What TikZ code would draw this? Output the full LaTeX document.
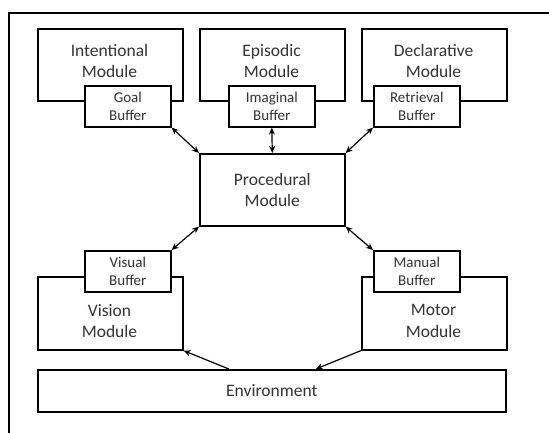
\documentclass[tikz,border=0pt]{standalone}
\usepackage{fontspec}
\setmainfont{Carlito}
\usetikzlibrary{arrows.meta}
\definecolor{txt}{HTML}{333333}
\tikzset{
  modbox/.style={draw=black, line width=1.6pt, fill=white, minimum width=145pt, minimum height=72pt, inner sep=0pt, anchor=north west},
  bufbox/.style={draw=black, line width=1.6pt, fill=white, minimum width=86pt, minimum height=41pt, inner sep=0pt, anchor=north west, text=txt, align=center, font=\fontsize{15}{18}\selectfont},
  modtext/.style={text=txt, align=center, font=\fontsize{17.5}{21.5}\selectfont, inner sep=0pt},
  conn/.style={line width=1.2pt, {Stealth[length=7pt,width=6pt]}-{Stealth[length=7pt,width=6pt]}},
  oneway/.style={line width=1.2pt, -{Stealth[length=7pt,width=6pt]}}
}
\begin{document}
\begin{tikzpicture}[x=1pt,y=-1pt]
\useasboundingbox (0,0) rectangle (549,433);
\draw[line width=2pt] (9,433) -- (9,13) -- (549,13);
% top modules
\node[modbox] (intm) at (37,28) {};
\node[modbox] (epim) at (199,28) {};
\node[modbox] (decm) at (361,28) {};
\node[modtext] (intt) at (109.5,61) {Intentional\\Module};
\node[modtext] (epit) at (271.5,61) {Episodic\\Module};
\node[modtext] (dect) at (433.5,61) {Declarative\\Module};
% top buffers
\node[bufbox] (goal) at (84,85) {Goal\\Buffer};
\node[bufbox] (imag) at (228,85) {Imaginal\\Buffer};
\node[bufbox] (retr) at (373,85) {Retrieval\\Buffer};
% procedural
\node[modbox, text=txt, align=center, font=\fontsize{17.5}{21.5}\selectfont] (proc) at (199,153) {Procedural\\Module};
% bottom modules
\node[modbox, minimum height=73pt] (vism) at (37,276) {};
\node[modbox, minimum height=73pt] (motm) at (361,276) {};
\node[modtext] (vist) at (109.5,321) {Vision\\Module};
\node[modtext] (mott) at (433.5,321) {Motor\\Module};
\node[bufbox] (visb) at (84,250) {Visual\\Buffer};
\node[bufbox] (manb) at (373,250) {Manual\\Buffer};
% environment
\node[modbox, minimum width=468pt, minimum height=42pt, text=txt, font=\fontsize{17.5}{21.5}\selectfont] (env) at (37,369) {Environment};
\coordinate (envl) at ([xshift=-43pt]env.north);
\coordinate (envr) at ([xshift=44pt]env.north);
% connectors
\draw[conn] (goal.south east) -- (proc.north west);
\draw[conn] (imag.south) -- (proc.north);
\draw[conn] (retr.south west) -- (proc.north east);
\draw[conn] (proc.south west) -- (visb.north east);
\draw[conn] (proc.south east) -- (manb.north west);
\draw[oneway] (envl) -- (vism.south east);
\draw[oneway] (motm.south west) -- (envr);
\end{tikzpicture}
\end{document}
